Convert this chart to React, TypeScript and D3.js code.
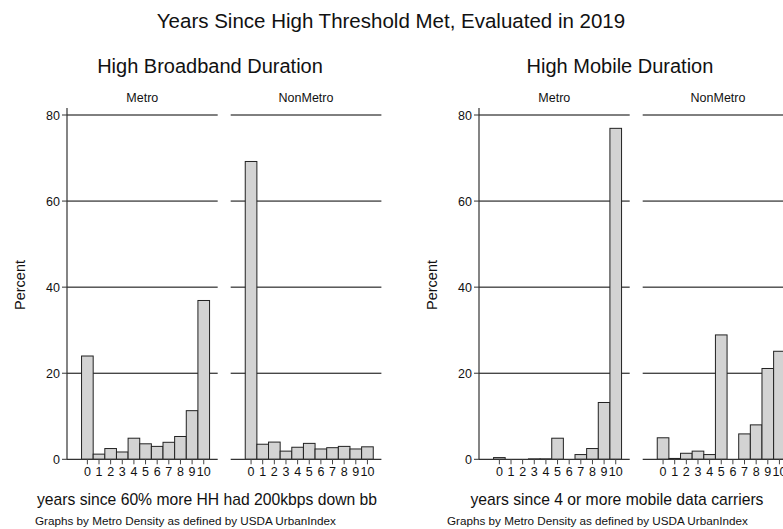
import React from "react";
import * as d3 from "d3";

const years = [0, 1, 2, 3, 4, 5, 6, 7, 8, 9, 10];
const bbMetro = [24.0, 1.2, 2.5, 1.7, 4.9, 3.6, 3.0, 3.95, 5.3, 11.3, 36.9];
const bbNonMetro = [69.2, 3.5, 4.0, 1.9, 2.8, 3.7, 2.4, 2.7, 3.0, 2.4, 2.9];
const mobMetro = [0.4, 0, 0, 0.1, 0.1, 4.9, 0, 1.1, 2.5, 13.2, 76.9];
const mobNonMetro = [5.0, 0.2, 1.4, 1.9, 1.1, 28.9, 0, 5.9, 8.0, 21.1, 25.1];
const yTicks = [0, 20, 40, 60, 80];
const panelLabels = ["Metro", "NonMetro"];

const FONT = "'Liberation Sans', Arial, sans-serif";

const yScale = d3.scaleLinear().domain([0, 80]).range([459.3, 115]);

function Panel({ x0, values }: { x0: number; values: number[] }) {
  const xs = d3.scaleLinear().domain([-1.75, 11.2]).range([x0, x0 + 150.7]);
  const bw = xs(1) - xs(0);
  return (
    <g>
      {yTicks.filter((t) => t > 0).map((t) => (
        <line key={t} x1={x0} x2={x0 + 150.7} y1={yScale(t)} y2={yScale(t)} stroke="#000" strokeWidth={1} />
      ))}
      {years.map((yr, i) =>
        values[i] > 0 ? (
          <rect
            key={yr}
            x={xs(yr - 0.5)}
            width={bw}
            y={yScale(values[i])}
            height={yScale(0) - yScale(values[i])}
            fill="#d3d3d3"
            stroke="#222"
            strokeWidth={1}
          />
        ) : null
      )}
      <line x1={x0} x2={x0 + 150.7} y1={yScale(0)} y2={yScale(0)} stroke="#333" strokeWidth={1.2} />
      {years.map((yr) => (
        <g key={yr}>
          <line x1={xs(yr)} x2={xs(yr)} y1={yScale(0)} y2={yScale(0) + 5} stroke="#444" strokeWidth={1} />
          <text x={xs(yr)} y={476} textAnchor="middle" fontSize={12.5} fontFamily={FONT} fill="#111">
            {yr}
          </text>
        </g>
      ))}
    </g>
  );
}

function Chart({ ax, center, subtitle, xTitle, left, right }: { ax: number; center: number; subtitle: string; xTitle: string; left: number[]; right: number[] }) {
  const p2 = ax + 163.7;
  return (
    <g>
      <text x={center} y={73} textAnchor="middle" fontSize={20} fontFamily={FONT} fill="#111">
        {subtitle}
      </text>
      <text x={ax + 75.3} y={102} textAnchor="middle" fontSize={12.5} fontFamily={FONT} fill="#111">
        {panelLabels[0]}
      </text>
      <text x={p2 + 75.3} y={102} textAnchor="middle" fontSize={12.5} fontFamily={FONT} fill="#111">
        {panelLabels[1]}
      </text>
      <Panel x0={ax} values={left} />
      <Panel x0={p2} values={right} />
      <line x1={ax} x2={ax} y1={108} y2={yScale(0)} stroke="#333" strokeWidth={1.2} />
      {yTicks.map((t) => (
        <g key={t}>
          <line x1={ax - 5} x2={ax} y1={yScale(t)} y2={yScale(t)} stroke="#333" strokeWidth={1} />
          <text x={ax - 7} y={yScale(t) + 4.5} textAnchor="end" fontSize={12.5} fontFamily={FONT} fill="#111">
            {t}
          </text>
        </g>
      ))}
      <text
        transform={`translate(${ax - 42},285) rotate(-90)`}
        textAnchor="middle"
        fontSize={14.5}
        fontFamily={FONT}
        fill="#111"
      >
        Percent
      </text>
      <text x={center - 3} y={505} textAnchor="middle" fontSize={15.7} fontFamily={FONT} fill="#111">
        {xTitle}
      </text>
      <text x={ax - 32} y={525} fontSize={11.7} fontFamily={FONT} fill="#111">
        Graphs by Metro Density as defined by USDA UrbanIndex
      </text>
    </g>
  );
}

export default function App() {
  return (
    <svg width={783} height={529} style={{ position: "absolute", left: 0, top: 0, background: "#fff" }}>
      <rect width={783} height={529} fill="#fff" />
      <text x={391} y={28} textAnchor="middle" fontSize={20.5} fontFamily={FONT} fill="#111">
        Years Since High Threshold Met, Evaluated in 2019
      </text>
      <Chart
        ax={67}
        center={210}
        subtitle="High Broadband Duration"
        xTitle="years since 60% more HH had 200kbps down bb"
        left={bbMetro}
        right={bbNonMetro}
      />
      <Chart
        ax={479}
        center={620}
        subtitle="High Mobile Duration"
        xTitle="years since 4 or more mobile data carriers"
        left={mobMetro}
        right={mobNonMetro}
      />
    </svg>
  );
}
